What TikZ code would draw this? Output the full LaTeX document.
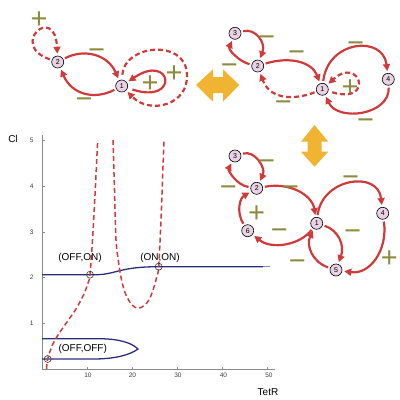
\documentclass[tikz,border=0pt]{standalone}
\usepackage{fontspec}
\setmainfont{Liberation Sans}
\usetikzlibrary{arrows.meta}
\definecolor{arred}{HTML}{D03A3A}
\definecolor{olive2}{HTML}{8C8C3E}
\definecolor{gold2}{HTML}{F0B432}
\definecolor{navy2}{HTML}{2E2E7E}
\definecolor{nodefill}{HTML}{E8D2E4}
\definecolor{axgray}{HTML}{8A8A8A}
\tikzset{
  gn/.style={circle,draw=black,line width=0.6pt,fill=nodefill,minimum size=12pt,inner sep=0pt,font=\fontsize{7}{7}\selectfont},
  arr/.style={draw=arred,line width=2.2pt,-{Triangle[length=7pt,width=7pt]},shorten >=2pt,shorten <=2pt},
  darr/.style={arr,dash pattern=on 5pt off 3pt},
  pm/.style={text=olive2,inner sep=0pt,anchor=base,yshift=-10.2pt,font=\fontsize{29}{29}\selectfont},
  ticklab/.style={text=black!75,inner sep=0pt,font=\fontsize{6.5}{6.5}\selectfont},
  lab/.style={inner sep=0pt,font=\fontsize{10}{10}\selectfont},
  dbl/.style={fill=gold2,draw=none},
  redcurve/.style={draw=arred,line width=1.5pt,dash pattern=on 5pt off 3pt},
  bluecurve/.style={draw=navy2,line width=1.3pt},
  pmark/.style={circle,draw=black!80,line width=0.6pt,minimum size=7pt,inner sep=0pt}
}
\begin{document}
\begin{tikzpicture}[x=1pt,y=-1pt]
\useasboundingbox (0,0) rectangle (400,400);
% ---------- top-left network ----------
\node[gn] (a2) at (57.7,62) {2};
\node[gn] (a1) at (121.7,86) {1};
\draw[darr] (a2) .. controls (8,45) and (55,3) .. (a2);
\draw[arr] (a2) .. controls (85,48) and (108,55) .. (a1);
\draw[arr] (a1) .. controls (95,100) and (72,95) .. (a2);
\draw[arr,shorten <=5pt] (a1) .. controls (180,105) and (172,52) .. (a1);
\coordinate (tlr) at (187,74);
\draw[darr,shorten <=5pt] (a1) .. controls (124,45) and (185,38) .. (tlr) .. controls (189,105) and (150,115) .. (a1);
\node[pm] (tlp1) at (39,18) {+};
\node[pm] (tlp2) at (150,82) {+};
\node[pm] (tlp3) at (174,72) {+};
\node[pm] (tlm1) at (96.7,49.3) {−};
\node[pm] (tlm2) at (84,98) {−};
% ---------- horizontal double arrow ----------
\fill[dbl] (196,85) -- (213,69.3) -- (213,77) -- (223,77) -- (223,69.3) -- (239.3,85) -- (223,101.7) -- (223,93) -- (213,93) -- (213,101.7) -- cycle;
% ---------- top-right network ----------
\node[gn] (b3) at (235,33.3) {3};
\node[gn] (b2) at (257.7,66) {2};
\node[gn] (b1) at (322.3,89.3) {1};
\node[gn] (b4) at (388.3,79.3) {4};
\draw[arr] (b3) .. controls (255,28) and (266,42) .. (b2);
\draw[arr] (b2) .. controls (240,62) and (228,50) .. (b3);
\draw[arr] (b2) .. controls (290,56) and (312,62) .. (b1);
\draw[darr] (b1) .. controls (295,100) and (270,100) .. (b2);
\draw[arr] (b1) .. controls (328,40) and (383,35) .. (b4);
\draw[arr] (b4) .. controls (390,115) and (338,122) .. (b1);
\draw[darr,shorten <=4pt] (b1) .. controls (375,105) and (360,55) .. (b1);
\node[pm] (trm1) at (266.7,36.7) {−};
\node[pm] (trm2) at (296.7,51.7) {−};
\node[pm] (trm3) at (229.3,64.3) {−};
\node[pm] (trm4) at (355.7,42.3) {−};
\node[pm] (trm5) at (283.3,101.7) {−};
\node[pm] (trm6) at (365.7,119.3) {−};
\node[pm] (trp1) at (350,86) {+};
% ---------- vertical double arrow ----------
\fill[dbl] (314.5,125) -- (301,141.7) -- (307.7,141.7) -- (307.7,151.7) -- (301,151.7) -- (314.5,166.7) -- (328.3,151.7) -- (321.7,151.7) -- (321.7,141.7) -- (328.3,141.7) -- cycle;
% ---------- bottom-right network ----------
\node[gn] (c3) at (235,156) {3};
\node[gn] (c2) at (256.7,188.3) {2};
\node[gn] (c1) at (316.7,223.3) {1};
\node[gn] (c4) at (382.7,213.3) {4};
\node[gn] (c6) at (247.7,230.7) {6};
\node[gn] (c5) at (336,270) {5};
\draw[arr] (c3) .. controls (255,150) and (266,168) .. (c2);
\draw[arr] (c2) .. controls (236,185) and (228,170) .. (c3);
\draw[arr] (c6) .. controls (236,212) and (240,198) .. (c2);
\draw[arr] (c2) .. controls (290,182) and (312,195) .. (c1);
\draw[arr] (c1) .. controls (300,245) and (272,250) .. (c6);
\draw[arr] (c1) .. controls (322,178) and (378,170) .. (c4);
\draw[arr] (c4) .. controls (388,250) and (370,275) .. (c5);
\draw[arr] (c1) .. controls (338,230) and (345,245) .. (c5);
\draw[arr] (c5) .. controls (312,262) and (306,245) .. (c1);
\node[pm] (brm1) at (266.7,160) {−};
\node[pm] (brm2) at (228.3,186.7) {−};
\node[pm] (brm3) at (290.7,186) {−};
\node[pm] (brp1) at (256.7,212.3) {+};
\node[pm] (brm4) at (279.3,229.3) {−};
\node[pm] (brm5) at (350.7,176) {−};
\node[pm] (brm6) at (352.7,230.7) {−};
\node[pm] (brm7) at (297.3,260) {−};
\node[pm] (brp2) at (389.3,257.3) {+};
% ---------- plot axes ----------
\draw[axgray,line width=0.6pt] (42,135) -- (42,369) -- (275,369);
\foreach \yy in {140,186.7,232.7,277.3,323.3}{
  \draw[axgray,line width=0.5pt] (42,\yy) -- (44.5,\yy);
}
\node[ticklab] (yl5) at (31.7,140) {5};
\node[ticklab] (yl4) at (31.7,186.7) {4};
\node[ticklab] (yl3) at (31.7,232.7) {3};
\node[ticklab] (yl2) at (31.7,277.3) {2};
\node[ticklab] (yl1) at (31.7,323.3) {1};
\foreach \xx in {87,132,177,222,267}{
  \draw[axgray,line width=0.5pt] (\xx,369) -- (\xx,366.5);
}
\node[ticklab] (xl1) at (88,375) {10};
\node[ticklab] (xl2) at (132.5,375) {20};
\node[ticklab] (xl3) at (178,375) {30};
\node[ticklab] (xl4) at (223.5,375) {40};
\node[ticklab] (xl5) at (269,375) {50};
\node[lab] (ylab) at (13,139) {Cl};
\node[lab] (xlab) at (268,392) {TetR};
% ---------- curves ----------
\draw[bluecurve] (42,274.7) -- (97,274.7) .. controls (108,274.5) and (115,271.5) .. (125,269.5) .. controls (135,267.5) and (145,266.7) .. (160,266.7) -- (263,266.7);
\draw[axgray,line width=1pt] (263,266.7) -- (270,266.7);
\draw[bluecurve] (42,338.7) -- (100,338.7) .. controls (120,339) and (132,343) .. (138,349) .. controls (130,355) and (115,358.8) .. (95,359) -- (42,359);
\draw[redcurve] plot[smooth] coordinates {(46.5,369) (47.7,359) (52,346) (58,335) (67,322) (76,309) (84,294) (88,283) (90,274.7) (92.5,240) (95,195) (97.7,140)};
\draw[redcurve] plot[smooth] coordinates {(113,140) (114.5,190) (116,240) (119,265) (122,282) (126,295) (132,305) (138.3,308.3) (145,305) (150,298) (154,287) (157,276) (158.7,266.7) (161,220) (162.5,180) (164,140)};
\node[pmark] (moo) at (47.7,359) {};
\node[pmark] (mof) at (90,274.7) {};
\node[pmark] (mon) at (158.7,266.7) {};
\node[lab] (loo) at (82.7,349) {(OFF,OFF)};
\node[lab] (lof) at (80,257.7) {(OFF,ON)};
\node[lab] (lon) at (160,257.7) {(ON,ON)};
\end{tikzpicture}
\end{document}
